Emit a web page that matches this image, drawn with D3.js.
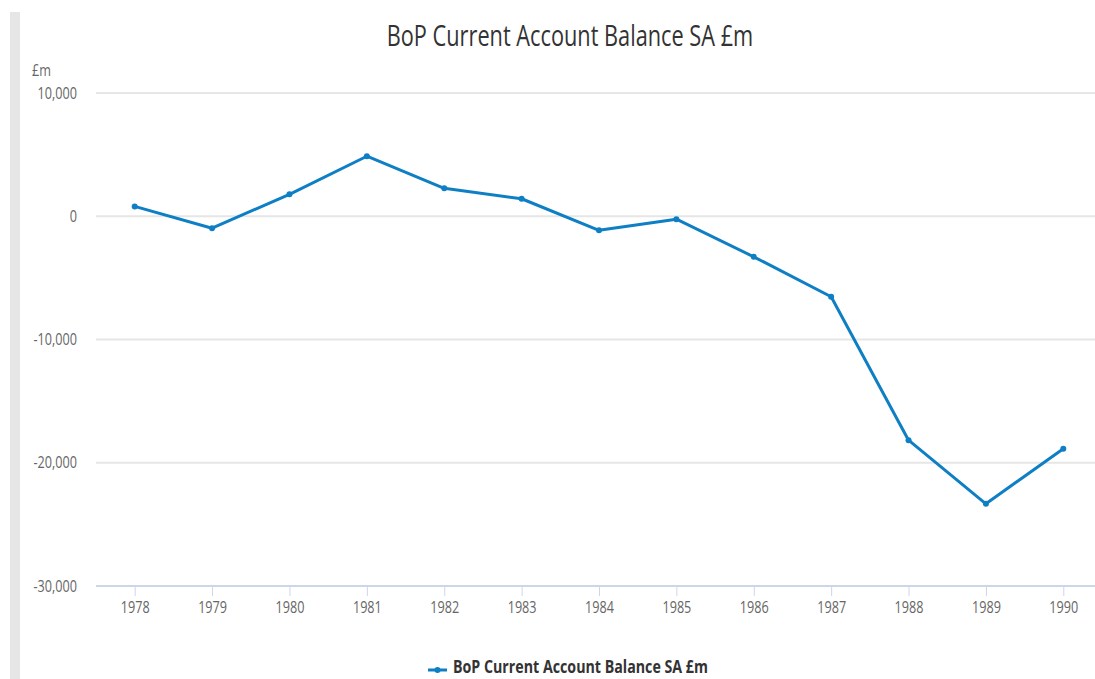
<!DOCTYPE html>
<html>
<head>
<meta charset="utf-8">
<script src="https://cdn.jsdelivr.net/npm/d3@7"></script>
<style>
  html, body { margin: 0; padding: 0; background: #fff; }
  svg { display: block; font-family: "Open Sans", sans-serif; }
  .sq { transform-box: fill-box; transform-origin: center; transform: scaleX(0.79); }
  .sqt { transform-box: fill-box; transform-origin: center; transform: scaleX(0.75); }
  .sqr { transform-box: fill-box; transform-origin: right center; transform: scaleX(0.79); }
  .sql { transform-box: fill-box; transform-origin: left center; transform: scaleX(0.79); }
</style>
</head>
<body>
<svg id="chart" width="1095" height="679"></svg>
<script>
const title = "BoP Current Account Balance SA £m";
const seriesName = "BoP Current Account Balance SA £m";
const unitLabel = "£m";
const years = ["1978","1979","1980","1981","1982","1983","1984","1985","1986","1987","1988","1989","1990"];
const balance = [800, -970, 1780, 4870, 2270, 1420, -1140, -240, -3290, -6530, -18170, -23330, -18860];
const yTicks = [10000, 0, -10000, -20000, -30000];

const svg = d3.select("#chart");
const W = 1095, H = 679;
const color = "#0e7fc4";

// left grey bar
svg.append("rect").attr("x", 10).attr("y", 12).attr("width", 10).attr("height", H - 12).attr("fill", "#e6e6e6");

const x = d3.scalePoint().domain(years).range([96, 1102]).padding(0.5);
const y = d3.scaleLinear().domain([-30000, 10000]).range([586, 93]);

// gridlines
svg.append("g").selectAll("line").data(yTicks.filter(d => d !== -30000)).join("line")
  .attr("x1", 96).attr("x2", W).attr("y1", d => y(d)).attr("y2", d => y(d))
  .attr("stroke", "#e6e6e6").attr("stroke-width", 2);

// y axis labels
const fmt = d => d3.format(",")(d).replace("\u2212", "-");
const yAxis = d3.axisLeft(y).tickValues(yTicks).tickFormat(fmt).tickSize(0).tickPadding(0);
const gy = svg.append("g").attr("transform", "translate(77,0)").call(yAxis);
gy.select(".domain").remove();
gy.selectAll("text").attr("class", "sqr").attr("fill", "#666").attr("font-size", 16)
  .attr("font-family", "Open Sans").attr("dy", "0.32em");

// x axis
const xAxis = d3.axisBottom(x).tickSize(10).tickPadding(6);
const gx = svg.append("g").attr("transform", "translate(0,586)").call(xAxis);
gx.select(".domain").attr("d", `M96,0H${W}`).attr("stroke", "#ccd6eb").attr("stroke-width", 2);
gx.selectAll(".tick line").attr("stroke", "#ccd6eb").attr("stroke-width", 1);
gx.selectAll("text").attr("class", "sq").attr("fill", "#666").attr("font-size", 16).attr("font-family", "Open Sans");

// unit label
svg.append("text").attr("class", "sql").attr("x", 32).attr("y", 76).attr("fill", "#666")
  .attr("font-size", 16).text(unitLabel);

// title
svg.append("text").attr("class", "sqt").attr("x", 570).attr("y", 46).attr("text-anchor", "middle")
  .attr("fill", "#333").attr("font-size", 29).text(title);

// line
const line = d3.line().x((d, i) => x(years[i])).y(d => y(d));
svg.append("path").datum(balance).attr("d", line).attr("fill", "none")
  .attr("stroke", color).attr("stroke-width", 3).attr("stroke-linejoin", "round");
svg.append("g").selectAll("circle").data(balance).join("circle")
  .attr("cx", (d, i) => x(years[i])).attr("cy", d => y(d)).attr("r", 3).attr("fill", color);

// legend
const lg = svg.append("g").attr("transform", "translate(428,670)");
lg.append("line").attr("x1", 0).attr("x2", 19).attr("y1", 0).attr("y2", 0).attr("stroke", color).attr("stroke-width", 3);
lg.append("circle").attr("cx", 9.5).attr("cy", 0).attr("r", 3).attr("fill", color);
lg.append("text").attr("class", "sql").attr("x", 25).attr("y", 3)
  .attr("font-size", 18).attr("font-weight", "bold").attr("fill", "#333").text(seriesName);
</script>
</body>
</html>
